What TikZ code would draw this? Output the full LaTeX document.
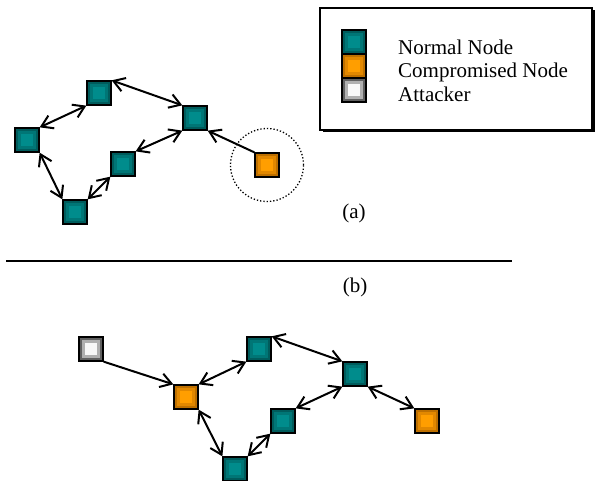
\documentclass[tikz,border=0pt]{standalone}
\usepackage{fontspec}
\setmainfont{Liberation Serif}
\usetikzlibrary{arrows.meta,shadows}
\usepackage{xcolor}

\definecolor{tealdark}{RGB}{0,92,92}
\definecolor{tealmid}{RGB}{0,118,118}
\definecolor{teallight}{RGB}{0,140,140}
\definecolor{orangedark}{RGB}{190,112,0}
\definecolor{orangemid}{RGB}{226,136,0}
\definecolor{orangelight}{RGB}{255,158,0}
\definecolor{graydark}{RGB}{96,96,96}
\definecolor{graymid}{RGB}{176,176,176}
\definecolor{graylight}{RGB}{248,248,248}

\begin{document}
\begin{tikzpicture}[x=1pt, y=-1pt,
    font=\fontsize{21}{24}\selectfont,
    >={Straight Barb[length=11pt, width=14pt]},
    bevel/.style n args={3}{
        rectangle,
        draw=black,
        line width=1.3pt,
        minimum size=24pt,
        inner sep=0pt,
        fill=#1,
        path picture={
            \fill[#2] ([shift={(3pt,3pt)}]path picture bounding box.south west)
                rectangle ([shift={(-3pt,-3pt)}]path picture bounding box.north east);
            \fill[#3] ([shift={(6pt,6pt)}]path picture bounding box.south west)
                rectangle ([shift={(-6pt,-6pt)}]path picture bounding box.north east);
        }
    },
    normal/.style={bevel={tealdark}{tealmid}{teallight}},
    compromised/.style={bevel={orangedark}{orangemid}{orangelight}},
    attacker/.style={bevel={graydark}{graymid}{graylight}},
    link/.style={line width=2pt, black}
]
    \useasboundingbox (0,0) rectangle (597,481);

    % legend
    \node (legend) [draw, line width=1.5pt, fill=white, minimum width=272pt, minimum height=122pt,
        drop shadow={shadow xshift=2.5pt, shadow yshift=-2.5pt, opacity=1, fill=black},
        shift={(456,69)}]
    {};

    \node (legend_normal) [normal, shift={(354,42)}]
    {};
    \node (legend_compromised) [compromised, shift={(354,66)}]
    {};
    \node (legend_attacker) [attacker, shift={(354,90)}]
    {};

    \node (legend_normal_txt) [anchor=base west, inner sep=0pt, shift={(398,55)}]
    {
        Normal Node
    };
    \node (legend_compromised_txt) [anchor=base west, inner sep=0pt, shift={(398,78)}]
    {
        Compromised Node
    };
    \node (legend_attacker_txt) [anchor=base west, inner sep=0pt, shift={(398,102)}]
    {
        Attacker
    };



    % (a)
    \node (normal_a_top) [normal, shift={(99,93)}]
    {};
    \node (normal_a_left) [normal, shift={(27,140)}]
    {};
    \node (normal_a_bottom) [normal, shift={(75,212)}]
    {};
    \node (normal_a_mid) [normal, shift={(123,164)}]
    {};
    \node (normal_a_right) [normal, shift={(195,118)}]
    {};
    \node (compromised_a) [compromised, shift={(267,165)}]
    {};

    \draw[dotted, line width=1.3pt] (compromised_a) circle (36.5pt);

    \node (label_a) [shift={(354,213)}]
    {
        (a)
    };



    % separator
    \coordinate (rule_left) at (6,261);
    \coordinate (rule_right) at (512,261);
    \draw[line width=2pt] (rule_left) -- (rule_right);

    \node (label_b) [shift={(355,287)}]
    {
        (b)
    };



    % (b)
    \node (attacker_b) [attacker, shift={(91,349)}]
    {};
    \node (compromised_b_left) [compromised, shift={(186,397)}]
    {};
    \node (normal_b_top) [normal, shift={(259,349)}]
    {};
    \node (normal_b_right) [normal, shift={(355,374)}]
    {};
    \node (normal_b_mid) [normal, shift={(283,421)}]
    {};
    \node (normal_b_bottom) [normal, shift={(235,469)}]
    {};
    \node (compromised_b_right) [compromised, shift={(427,421)}]
    {};



    \draw[<->, link] (normal_a_top.south west) to (normal_a_left.north east);
    \draw[<->, link] (normal_a_left.south east) to (normal_a_bottom.north west);
    \draw[<->, link] (normal_a_bottom.north east) to (normal_a_mid.south west);
    \draw[<->, link] (normal_a_mid.north east) to (normal_a_right.south west);
    \draw[<->, link] (normal_a_top.north east) to (normal_a_right.north west);
    \draw[->, link] (compromised_a.north west) to (normal_a_right.south east);

    \draw[->, link] (attacker_b.south east) to (compromised_b_left.north west);
    \draw[<->, link] (compromised_b_left.north east) to (normal_b_top.south west);
    \draw[<->, link] (normal_b_top.north east) to (normal_b_right.north west);
    \draw[<->, link] (normal_b_right.south west) to (normal_b_mid.north east);
    \draw[<->, link] (normal_b_mid.south west) to (normal_b_bottom.north east);
    \draw[<->, link] (normal_b_bottom.north west) to (compromised_b_left.south east);
    \draw[<->, link] (normal_b_right.south east) to (compromised_b_right.north west);


\end{tikzpicture}
\end{document}
